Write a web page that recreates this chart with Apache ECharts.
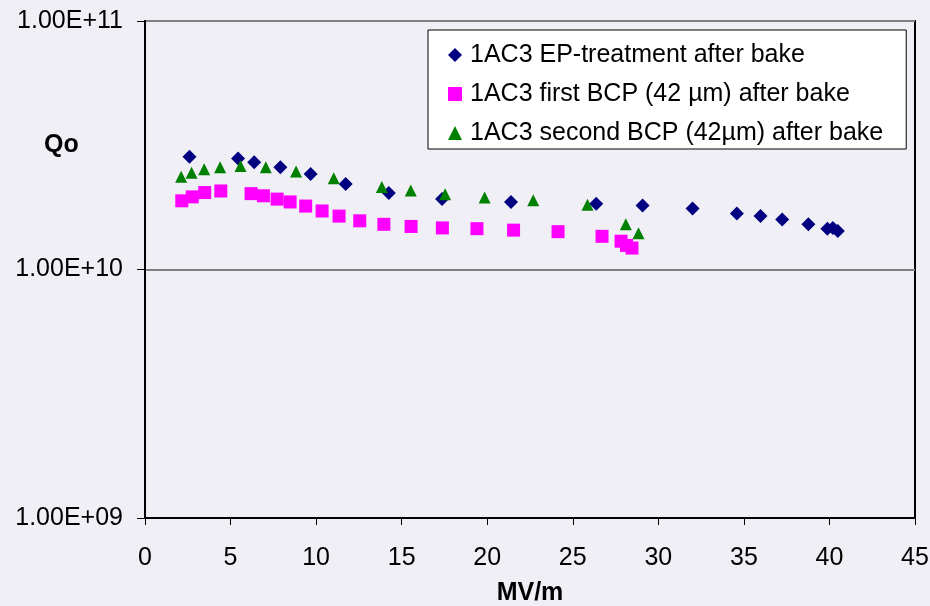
<!DOCTYPE html>
<html>
<head>
<meta charset="utf-8">
<script src="https://cdn.jsdelivr.net/npm/echarts@6/dist/echarts.min.js"></script>
<style>
html,body{margin:0;padding:0;background:#EFEFF5;}
#c{width:930px;height:606px;}
</style>
</head>
<body>
<div id="c"></div>
<script>
// Series names
const seriesNames = [
  '1AC3 EP-treatment after bake',
  '1AC3 first BCP (42 \u00b5m) after bake',
  '1AC3 second BCP (42\u00b5m) after bake'
];
// EP-treatment: [MV/m, Qo]
const epX = [2.60, 5.44, 6.38, 7.91, 9.68, 11.73, 14.25, 17.36, 21.39, 26.37, 29.08, 32.00, 34.59, 35.97, 37.24, 38.77, 39.88, 40.20, 40.49];
const epQ = [2.84e10, 2.80e10, 2.70e10, 2.58e10, 2.42e10, 2.21e10, 2.03e10, 1.92e10, 1.87e10, 1.84e10, 1.81e10, 1.76e10, 1.68e10, 1.64e10, 1.59e10, 1.52e10, 1.46e10, 1.47e10, 1.43e10];
// first BCP
const bcp1X = [2.15, 2.76, 3.49, 4.43, 6.20, 6.92, 7.72, 8.48, 9.39, 10.35, 11.34, 12.55, 13.96, 15.55, 17.38, 19.40, 21.54, 24.14, 26.71, 27.82, 28.14, 28.46];
const bcp1Q = [1.89e10, 1.96e10, 2.04e10, 2.07e10, 2.02e10, 1.98e10, 1.92e10, 1.87e10, 1.80e10, 1.72e10, 1.64e10, 1.57e10, 1.52e10, 1.49e10, 1.47e10, 1.46e10, 1.44e10, 1.42e10, 1.36e10, 1.30e10, 1.25e10, 1.22e10];
// second BCP
const bcp2X = [2.11, 2.72, 3.46, 4.39, 5.58, 7.06, 8.83, 11.03, 13.84, 15.53, 17.54, 19.85, 22.69, 25.86, 28.10, 28.84];
const bcp2Q = [2.36e10, 2.45e10, 2.53e10, 2.58e10, 2.61e10, 2.58e10, 2.48e10, 2.33e10, 2.15e10, 2.08e10, 2.01e10, 1.95e10, 1.90e10, 1.82e10, 1.52e10, 1.40e10];
// axis ticks
const xTicks = [0, 5, 10, 15, 20, 25, 30, 35, 40, 45];
const yTicks = [1e9, 1e10, 1e11];

function pairs(xs, ys) { return xs.map((x, i) => [x, ys[i]]); }
function fmtE(v) {
  const e = Math.round(Math.log10(v));
  const m = v / Math.pow(10, e);
  const es = String(Math.abs(e)).padStart(2, '0');
  return m.toFixed(2) + 'E' + (e < 0 ? '-' : '+') + es;
}

const FONT = '"Liberation Sans", Arial, sans-serif';
const chart = echarts.init(document.getElementById('c'));
chart.setOption({
  backgroundColor: '#EFEFF5',
  animation: false,
  textStyle: { fontFamily: FONT },
  grid: { left: 145, right: 15, top: 21, bottom: 88, show: true, borderColor: '#000', borderWidth: 2,
          backgroundColor: 'transparent', containLabel: false, outerBoundsMode: 'none' },
  legend: {
    orient: 'vertical', left: 428, top: 30,
    padding: [12, 23, 3, 20],
    itemGap: 13, itemWidth: 14, itemHeight: 14,
    backgroundColor: '#fff', borderColor: '#000', borderWidth: 1, borderRadius: 0,
    textStyle: { fontSize: 25, color: '#000', fontFamily: FONT, lineHeight: 26, padding: [0, 0, 0, 3] },
    data: seriesNames
  },
  xAxis: {
    type: 'value', min: xTicks[0], max: xTicks[xTicks.length - 1], interval: 5,
    name: 'MV/m', nameLocation: 'middle', nameGap: 63,
    nameTextStyle: { fontSize: 25, fontWeight: 'bold', color: '#000', fontFamily: FONT },
    axisLine: { show: true, lineStyle: { color: '#000', width: 2 } },
    axisTick: { show: true, inside: false, length: 7, lineStyle: { color: '#000', width: 1 } },
    axisLabel: { fontSize: 25, color: '#000', margin: 28, fontFamily: FONT },
    splitLine: { show: false }
  },
  yAxis: {
    type: 'log', logBase: 10, min: yTicks[0], max: yTicks[yTicks.length - 1],
    axisLine: { show: true, lineStyle: { color: '#000', width: 2 } },
    axisTick: { show: true, inside: false, length: 8, lineStyle: { color: '#000', width: 1 } },
    axisLabel: { fontSize: 25, color: '#000', margin: 22, fontFamily: FONT, formatter: v => fmtE(v) },
    splitLine: { show: true, lineStyle: { color: '#808080', width: 2 } },
    minorTick: { show: false }
  },
  graphic: [{
    type: 'text', left: 44, top: 133,
    style: { text: 'Qo', fontSize: 25, fontWeight: 'bold', fill: '#000', fontFamily: FONT }
  }],
  series: [
    { name: seriesNames[0], type: 'scatter', symbol: 'diamond', symbolSize: [14, 14],
      itemStyle: { color: '#000080', opacity: 1 }, data: pairs(epX, epQ) },
    { name: seriesNames[1], type: 'scatter', symbol: 'rect', symbolSize: [13, 13],
      itemStyle: { color: '#FF00FF', opacity: 1 }, data: pairs(bcp1X, bcp1Q) },
    { name: seriesNames[2], type: 'scatter', symbol: 'triangle', symbolSize: [12, 12],
      itemStyle: { color: '#008000', opacity: 1 }, data: pairs(bcp2X, bcp2Q) }
  ]
});
</script>
</body>
</html>
